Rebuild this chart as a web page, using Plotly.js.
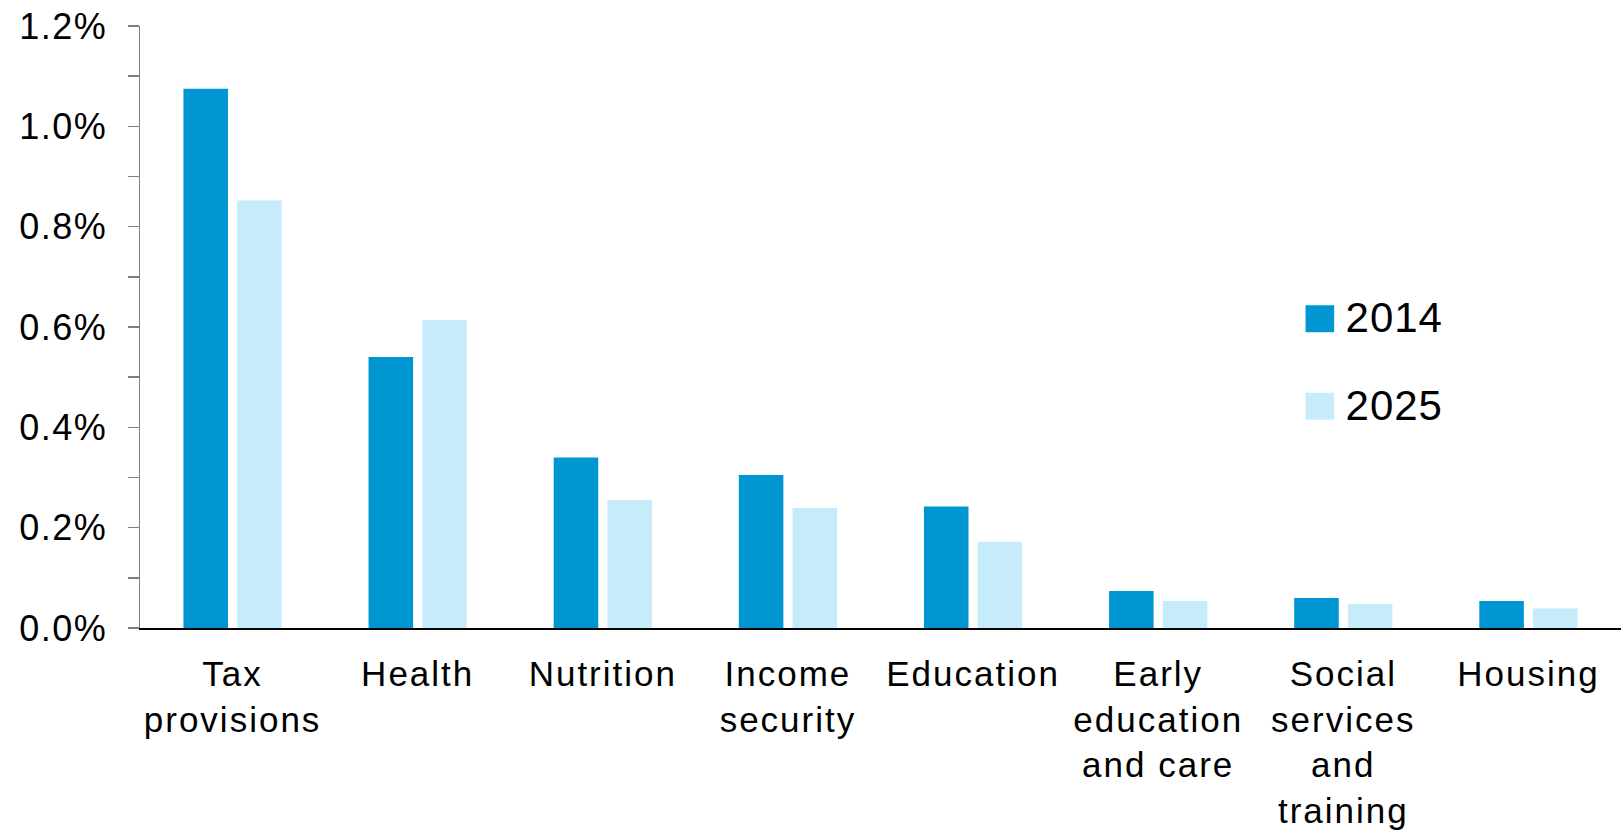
<!DOCTYPE html>
<html>
<head>
<meta charset="utf-8">
<script src="https://cdn.plot.ly/plotly-3.0.1.min.js"></script>
<style>
  html, body { margin: 0; padding: 0; background: #fff; }
  #chart { width: 1624px; height: 833px; }
  .legend .legendpoints path { transform: translate(13px, 3px) scale(2.6, 2.25); }
  .xtick text { letter-spacing: 2px; }
  .ytick text { letter-spacing: 1.5px; }
  .legendtext { letter-spacing: 1px; }
</style>
</head>
<body>
<div id="chart"></div>
<script>
const categories = [
  "Tax<br>provisions", "Health", "Nutrition", "Income<br>security",
  "Education", "Early<br>education<br>and care", "Social<br>services<br>and<br>training", "Housing"
];
const values2014 = [1.075, 0.54, 0.34, 0.305, 0.242, 0.074, 0.060, 0.054];
const values2025 = [0.852, 0.614, 0.255, 0.239, 0.172, 0.054, 0.048, 0.039];
const seriesNames = ["2014", "2025"];

const FONT = '"Liberation Sans", Arial, sans-serif';

const data = [
  { type: 'bar', name: seriesNames[0], x: categories, y: values2014,
    marker: { color: '#0096D2' }, legendgroup: 'a', hoverinfo: 'x+y' },
  { type: 'bar', name: seriesNames[1], x: categories, y: values2025,
    marker: { color: '#C6ECFC' }, legendgroup: 'b', hoverinfo: 'x+y' }
];

const layout = {
  width: 1624, height: 833,
  margin: { l: 140, r: 3, t: 26, b: 205 },
  paper_bgcolor: '#fff', plot_bgcolor: '#fff',
  font: { family: FONT, color: '#000' },
  barmode: 'group', bargap: 0.42, bargroupgap: 0.17,
  showlegend: true,
  legend: {
    x: 0.787, xanchor: 'left', y: 0.575, yanchor: 'top',
    font: { family: FONT, size: 42, color: '#000' },
    traceorder: 'grouped', tracegroupgap: 30,
    bgcolor: 'rgba(0,0,0,0)'
  },
  xaxis: {
    type: 'category',
    showline: true, linecolor: '#000', linewidth: 2,
    ticks: '', showgrid: false, zeroline: false,
    tickfont: { family: FONT, size: 35, color: '#000' },
    ticklabelstandoff: 14,
    fixedrange: true
  },
  yaxis: {
    range: [0, 1.2], dtick: 0.2, tick0: 0,
    tickformat: '.1f', ticksuffix: '%',
    showline: true, linecolor: '#7f7f7f', linewidth: 1.5,
    ticks: 'outside', ticklen: 11, tickcolor: '#7f7f7f', tickwidth: 1.5,
    minor: { dtick: 0.1, ticks: 'outside', ticklen: 11, tickcolor: '#7f7f7f', tickwidth: 1.5 },
    showgrid: false, zeroline: false,
    tickfont: { family: FONT, size: 36, color: '#000' },
    ticklabelstandoff: 13,
    fixedrange: true
  }
};

Plotly.newPlot('chart', data, layout, { displayModeBar: false, staticPlot: true });
</script>
</body>
</html>
